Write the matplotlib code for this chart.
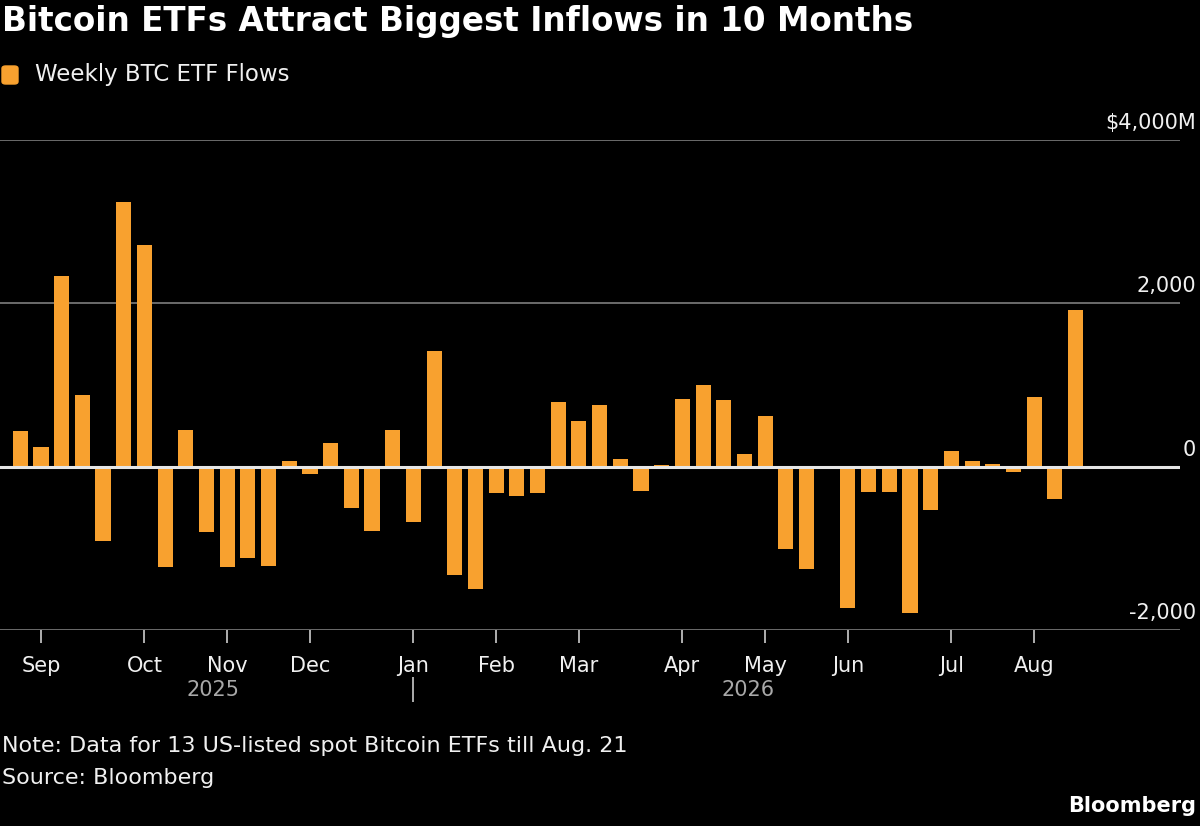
import matplotlib

matplotlib.use("Agg")
import matplotlib.pyplot as plt
import matplotlib.transforms as mtransforms
from matplotlib.patches import FancyBboxPatch
import pandas as pd

# weekly flows, $M, one bar per week (weeks starting Monday)
first_week = "2025-08-25"
flows = [440, 245, 2340, 880, -905, 3245, 2715, -1230, 445, -805,
         -1225, -1120, -1220, 70, -90, 285, -500, -790, 455, -675,
         1420, -1330, -1495, -320, -365, -320, 790, 565, 760, 90,
         -300, 15, 830, 995, 820, 150, 615, -1010, -1255, 0,
         -1725, -315, -310, -1795, -525, 190, 70, 30, -60, 850,
         -390, 1920]
y_ticks = [-2000, 0, 2000, 4000]
y_labels = ["-2,000", "0", "2,000", "$4,000M"]
years = ["2025", "2026"]

title = "Bitcoin ETFs Attract Biggest Inflows in 10 Months"
legend_label = "Weekly BTC ETF Flows"
note = "Note: Data for 13 US-listed spot Bitcoin ETFs till Aug. 21"
source = "Source: Bloomberg"

ORANGE = "#f8a12f"
W, H = 1200, 826
font = ["DejaVu Sans"]

weeks = pd.date_range(first_week, periods=len(flows), freq="7D")
xs = list(range(len(flows)))

# ticks sit on the first week of every month
tick_idx = [i for i in xs[1:] if weeks[i].month != weeks[i - 1].month]
tick_lab = [weeks[i].strftime("%b") for i in tick_idx]
jan_idx = [i for i in tick_idx if weeks[i].month == 1][0]

fig = plt.figure(figsize=(W / 100, H / 100), dpi=100, facecolor="black")
ax = fig.add_axes([0, (H - 630) / H, 1180 / W, 490 / H], facecolor="black")

bar_w = 0.73
ax.bar(xs, flows, width=bar_w, color=ORANGE, zorder=3)

ax.set_ylim(-2000, 4000)
ax.set_xlim(-0.98, 56.05)
for v in y_ticks:
    if v == 0:
        ax.axhline(v, color="#e6e6e6", lw=2.2, zorder=4)
    else:
        ax.axhline(v, color="#6b6b6b", lw=1.4, zorder=1)

for s in ax.spines.values():
    s.set_visible(False)
ax.set_yticks([])
ax.set_xticks(tick_idx)
ax.set_xticklabels(tick_lab, family=font, fontsize=15, color="#f0f0f0")
ax.tick_params(axis="x", length=9, width=1.3, color="#bdbdbd", pad=10)

# y labels sit above their gridlines, right aligned
ytr = mtransforms.blended_transform_factory(fig.transFigure, ax.transData)
for v, lab in zip(y_ticks, y_labels):
    ax.annotate(lab, (1196 / W, v), xycoords=ytr, xytext=(0, 5),
                textcoords="offset points", ha="right", va="bottom",
                family=font, fontsize=15, color="#f0f0f0")

# year labels under the month ticks
xtr = mtransforms.blended_transform_factory(ax.transData, fig.transFigure)
left_edge = xs[0] - bar_w / 2
right_edge = xs[-1] + bar_w / 2
fig.text((left_edge + jan_idx) / 2, 1 - 690 / H, years[0], transform=xtr,
         ha="center", va="center", family=font, fontsize=15, color="#a8a8a8")
fig.text((jan_idx + right_edge) / 2, 1 - 690 / H, years[1], transform=xtr,
         ha="center", va="center", family=font, fontsize=15, color="#a8a8a8")
fig.text(jan_idx, 1 - 690 / H, "|", transform=xtr, ha="center", va="center",
         family=font, fontsize=17, color="#a8a8a8")

# header
fig.text(2 / W, 1 - 21 / H, title, ha="left", va="center",
         fontsize=23.5, fontweight="bold", color="white")
fig.patches.append(FancyBboxPatch((2 / W, 1 - 84 / H), 16 / W, 18 / H,
                                  boxstyle="round,pad=0,rounding_size=0.003",
                                  transform=fig.transFigure, color=ORANGE))
fig.text(35 / W, 1 - 75 / H, legend_label, ha="left", va="center",
         family=font, fontsize=16.5, color="#f0f0f0")

# footer
fig.text(2 / W, 1 - 746 / H, note, ha="left", va="center",
         family=font, fontsize=16, color="#f0f0f0")
fig.text(2 / W, 1 - 778 / H, source, ha="left", va="center",
         family=font, fontsize=16, color="#f0f0f0")
fig.text(1196 / W, 1 - 806 / H, "Bloomberg", ha="right", va="center",
         fontsize=15, fontweight="bold", color="white")

fig.savefig("out.png", dpi=100, facecolor="black")
